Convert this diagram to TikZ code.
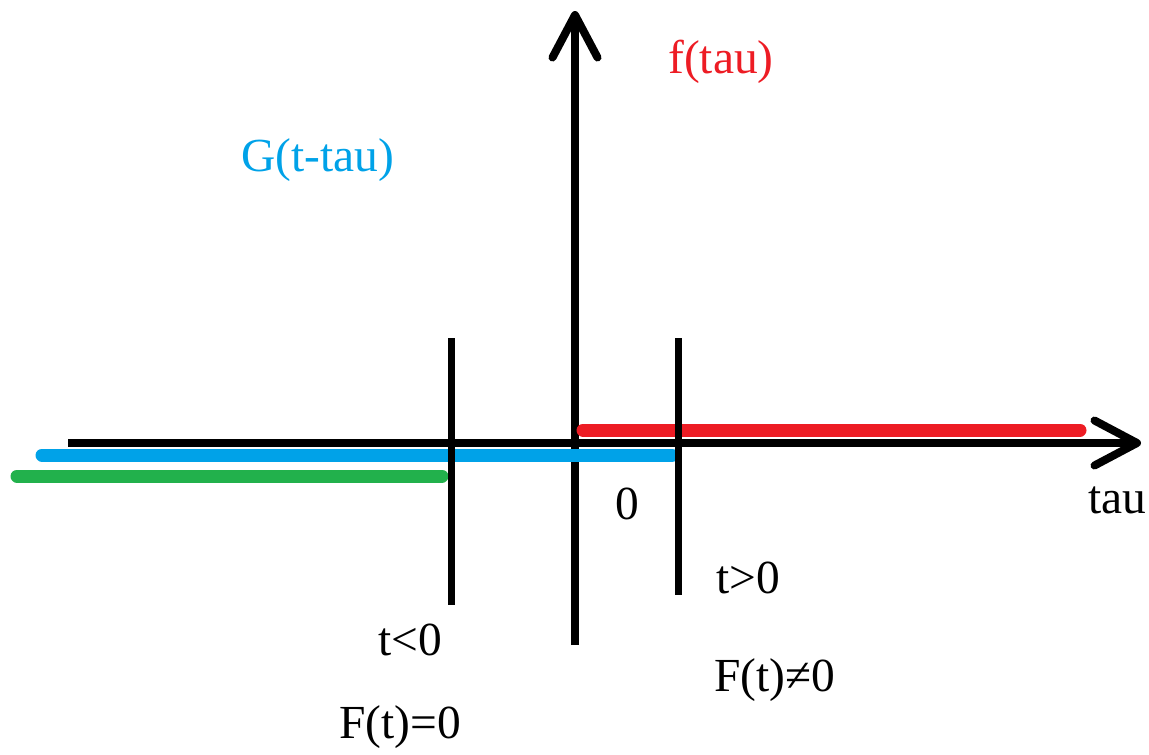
\documentclass[tikz,border=0pt]{standalone}
\usepackage{fontspec}
\setmainfont{Liberation Serif}
\definecolor{paintred}{HTML}{ED1C24}
\definecolor{paintblue}{HTML}{00A2E8}
\definecolor{paintgreen}{HTML}{22B14C}
\usetikzlibrary{arrows.meta}

\begin{document}
\begin{tikzpicture}[x=0.02cm, y=-0.02cm,
  axis/.style={line width=8*0.02cm, -{Straight Barb[length=0.85cm, width=0.9cm, line cap=round, line join=round]}},
  cut/.style={line width=7*0.02cm},
  band/.style={line width=13*0.02cm, line cap=round},
  lbl/.style={font=\fontsize{27}{32}\selectfont, inner sep=0pt},
]
\useasboundingbox (0,0) rectangle (1149,754);

% axes
\coordinate (xs) at (68,443);
\coordinate (xe) at (1141,443);
\coordinate (ys) at (575,645);
\coordinate (ye) at (575,11);
\draw[axis] (xs) -- (xe);
\draw[axis] (ys) -- (ye);

% functions
\coordinate (fs) at (583,430);
\coordinate (fe) at (1080,430);
\draw[band, paintred] (fs) -- (fe);
\coordinate (gs) at (42,455);
\coordinate (ge) at (672,455);
\draw[band, paintblue] (gs) -- (ge);
\coordinate (hs) at (17,476);
\coordinate (he) at (442,476);
\draw[band, paintgreen] (hs) -- (he);

% t positions
\coordinate (ta) at (451,338);
\coordinate (tb) at (451,605);
\draw[cut] (ta) -- (tb);
\coordinate (tc) at (678,338);
\coordinate (td) at (678,595);
\draw[cut] (tc) -- (td);

% labels
\node[lbl, text=paintred] (ftau) at (721,62) {f(tau)};
\node[lbl, text=paintblue] (gtau) at (318,160) {G(t-tau)};
\node[lbl] (zero) at (627,504) {0};
\node[lbl] (tau) at (1117,500) {tau};
\node[lbl] (tpos) at (748,578) {t>0};
\node[lbl] (tneg) at (410,640) {t<0};
\node[lbl] (fneq) at (775,680) {F(t)≠0};
\node[lbl] (feq) at (400,727) {F(t)=0};
\end{tikzpicture}
\end{document}
